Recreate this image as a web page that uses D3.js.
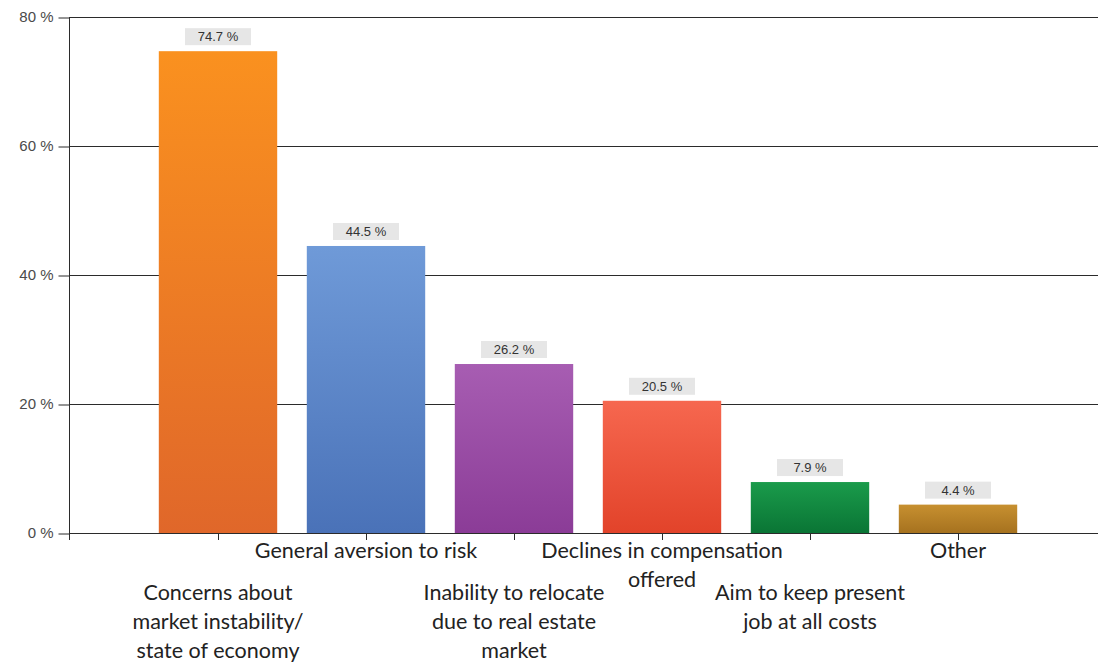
<!DOCTYPE html>
<html>
<head>
<meta charset="utf-8">
<script src="https://cdn.jsdelivr.net/npm/d3@7"></script>
<style>
  html, body { margin: 0; padding: 0; background: #fff; }
  svg { display: block; }
</style>
</head>
<body>
<svg id="chart" width="1098" height="664"></svg>
<script>
// Reasons for not changing jobs (share of respondents, %)
const categories = [
  ["Concerns about", "market instability/", "state of economy"],
  ["General aversion to risk"],
  ["Inability to relocate", "due to real estate", "market"],
  ["Declines in compensation", "offered"],
  ["Aim to keep present", "job at all costs"],
  ["Other"]
];
const values = [74.7, 44.5, 26.2, 20.5, 7.9, 4.4];
const yTicks = [0, 20, 40, 60, 80];
const barTop = ["#fa911f", "#6f9ad8", "#a75db2", "#f6674f", "#1a9b4b", "#c79030"];
const barBottom = ["#e0672a", "#4a72b8", "#8b3c97", "#e2432a", "#0a7535", "#a6721f"];

const svg = d3.select("#chart");
const plotLeft = 69, plotTop = 17, plotBottom = 533, plotRight = 1098;

const y = d3.scaleLinear().domain([0, 80]).range([plotBottom, plotTop]);
const x = d3.scaleBand()
  .domain(d3.range(values.length))
  .range([144, 1032])
  .paddingInner(0.2)
  .paddingOuter(0.1);

// gradients for bars
const defs = svg.append("defs");
values.forEach((v, i) => {
  const g = defs.append("linearGradient")
    .attr("id", "bar" + i)
    .attr("x1", 0).attr("y1", 0).attr("x2", 0).attr("y2", 1);
  g.append("stop").attr("offset", "0%").attr("stop-color", barTop[i]);
  g.append("stop").attr("offset", "100%").attr("stop-color", barBottom[i]);
});

// horizontal gridlines
svg.append("g")
  .selectAll("line")
  .data(yTicks)
  .join("line")
  .attr("x1", plotLeft).attr("x2", plotRight)
  .attr("y1", d => Math.round(y(d)) + 0.5)
  .attr("y2", d => Math.round(y(d)) + 0.5)
  .attr("stroke", "#2b2b2b")
  .attr("stroke-width", 1);

// y axis
const yAxis = svg.append("g")
  .attr("transform", `translate(${plotLeft + 0.5},0)`)
  .call(d3.axisLeft(y).tickValues(yTicks).tickSize(11).tickPadding(5)
    .tickFormat(d => d + " %"));
yAxis.select(".domain").remove();
yAxis.selectAll(".tick line").attr("stroke", "#2b2b2b")
  .attr("transform", d => `translate(0,${Math.round(y(d)) + 0.5 - y(d)})`);
yAxis.selectAll("text")
  .attr("fill", "#4a4a4a")
  .attr("font-family", "Liberation Sans, Arial, sans-serif")
  .attr("font-size", 15);
svg.append("line")
  .attr("x1", plotLeft + 0.5).attr("x2", plotLeft + 0.5)
  .attr("y1", plotTop).attr("y2", plotBottom + 7)
  .attr("stroke", "#2b2b2b");

// bars
svg.append("g")
  .selectAll("rect")
  .data(values)
  .join("rect")
  .attr("x", (d, i) => x(i))
  .attr("y", d => y(d))
  .attr("width", x.bandwidth())
  .attr("height", d => plotBottom - y(d))
  .attr("fill", (d, i) => `url(#bar${i})`);

// value labels with grey boxes
const vl = svg.append("g").selectAll("g")
  .data(values)
  .join("g")
  .attr("transform", (d, i) => `translate(${x(i) + x.bandwidth() / 2},${y(d) - 6})`);
vl.append("rect")
  .attr("x", -33).attr("y", -17)
  .attr("width", 66).attr("height", 17)
  .attr("fill", "#e6e6e6");
vl.append("text")
  .attr("text-anchor", "middle")
  .attr("y", -4)
  .attr("fill", "#333")
  .attr("font-family", "Liberation Sans, Arial, sans-serif")
  .attr("font-size", 13)
  .text(d => d.toFixed(1) + " %");

// x axis ticks at band centres
svg.append("g")
  .selectAll("line")
  .data(values)
  .join("line")
  .attr("x1", (d, i) => Math.round(x(i) + x.bandwidth() / 2) + 0.5)
  .attr("x2", (d, i) => Math.round(x(i) + x.bandwidth() / 2) + 0.5)
  .attr("y1", plotBottom).attr("y2", plotBottom + 7)
  .attr("stroke", "#2b2b2b");

// category labels, alternating rows
const lineH = 29;
svg.append("g")
  .selectAll("text")
  .data(categories)
  .join("text")
  .attr("text-anchor", "middle")
  .attr("font-family", "Lato, 'Open Sans', sans-serif")
  .attr("font-size", 21.5)
  .attr("fill", "#222")
  .attr("transform", (d, i) => `translate(${x(i) + x.bandwidth() / 2},${i % 2 ? 558 : 600})`)
  .each(function (lines) {
    d3.select(this).selectAll("tspan")
      .data(lines)
      .join("tspan")
      .attr("x", 0)
      .attr("y", (l, j) => j * lineH)
      .text(l => l);
  });
</script>
</body>
</html>
